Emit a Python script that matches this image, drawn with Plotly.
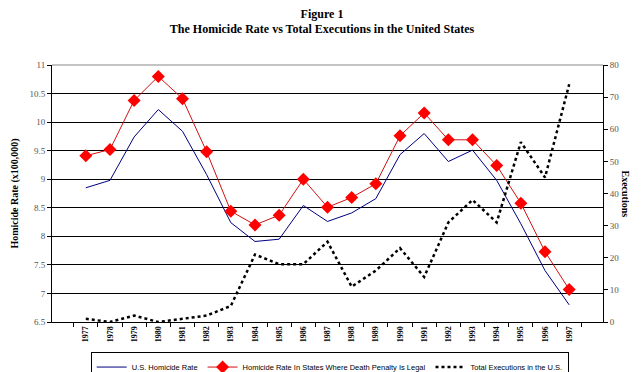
import plotly.graph_objects as go

years = [str(y) for y in range(1977, 1998)]
us_rate = [8.85, 8.98, 9.74, 10.22, 9.84, 9.08, 8.24, 7.91, 7.95, 8.54, 8.26,
           8.41, 8.66, 9.43, 9.80, 9.31, 9.51, 8.98, 8.22, 7.40, 6.80]
dp_rate = [9.41, 9.52, 10.38, 10.80, 10.41, 9.48, 8.44, 8.20, 8.37, 9.00, 8.51,
           8.68, 8.92, 9.76, 10.16, 9.69, 9.69, 9.24, 8.58, 7.73, 7.07]
executions = [1, 0, 2, 0, 1, 2, 5, 21, 18, 18, 25, 11, 16, 23, 14, 31, 38, 31, 56, 45, 74]

serif = "Liberation Serif"
sans = "Liberation Sans"

fig = go.Figure()
fig.add_trace(go.Scatter(x=years, y=us_rate, name="U.S. Homicide Rate", mode="lines",
                         line=dict(color="#000080", width=1)))
fig.add_trace(go.Scatter(x=years, y=dp_rate, name="Homicide Rate In States Where Death Penalty Is Legal",
                         mode="lines+markers", line=dict(color="#d01010", width=1),
                         marker=dict(symbol="diamond", size=10, color="#ff0000",
                                     line=dict(width=0))))
fig.add_trace(go.Scatter(x=years, y=executions, name="Total Executions in the U.S.", mode="lines",
                         line=dict(color="black", width=2.5, dash="dot"), yaxis="y2"))

fig.update_layout(
    width=644, height=372,
    margin=dict(l=52, r=41, t=65, b=50, autoexpand=False),
    paper_bgcolor="white", plot_bgcolor="white",
    showlegend=True,
    title=dict(text="<b>Figure 1</b><br><b>The Homicide Rate vs Total Executions in the United States</b>",
               x=0.5, xanchor="center", y=0.952, yanchor="top",
               font=dict(family=serif, size=12, color="black")),
    xaxis=dict(type="category", tickangle=-90, tickson="boundaries",
               ticks="outside", ticklen=4, tickcolor="black", automargin=False,
               showline=True, linecolor="black", linewidth=1,
               showgrid=False, tickfont=dict(family=serif, size=8, color="black", weight="bold")),
    yaxis=dict(range=[6.5, 11], dtick=0.5, tick0=6.5, ticks="outside", ticklen=4,
               tickcolor="black", showline=True, linecolor="black", linewidth=1,
               showgrid=True, gridcolor="black", gridwidth=1, zeroline=False, automargin=False,
               tickfont=dict(family=serif, size=9, color="#555555"),
               title=dict(text="<b>Homicide Rate (x100,000)</b>", standoff=8,
                          font=dict(family=serif, size=10, color="black"))),
    yaxis2=dict(range=[0, 80], dtick=10, overlaying="y", side="right",
                ticks="outside", ticklen=4, tickcolor="black", showline=True, automargin=False,
                linecolor="black", linewidth=1, showgrid=False, zeroline=False,
                tickfont=dict(family=serif, size=9, color="#555555")),
    legend=dict(orientation="h", x=0.504, xanchor="center", y=-0.115, yanchor="top",
                bordercolor="black", borderwidth=1, bgcolor="white",
                font=dict(family=sans, size=7.5, color="black"),
                itemwidth=30, tracegroupgap=0),
)
fig.add_shape(type="line", xref="paper", yref="paper", x0=0, x1=1, y0=1, y1=1,
              line=dict(color="#888888", width=1), layer="above")
fig.add_annotation(text="<b>Executions</b>", textangle=90, xref="paper", yref="paper",
                   x=1.04, y=0.5, xanchor="center", showarrow=False,
                   font=dict(family=serif, size=10, color="black"))

fig.write_html("out.html", config={"displayModeBar": False},
               post_script="document.body.style.margin='0';")
